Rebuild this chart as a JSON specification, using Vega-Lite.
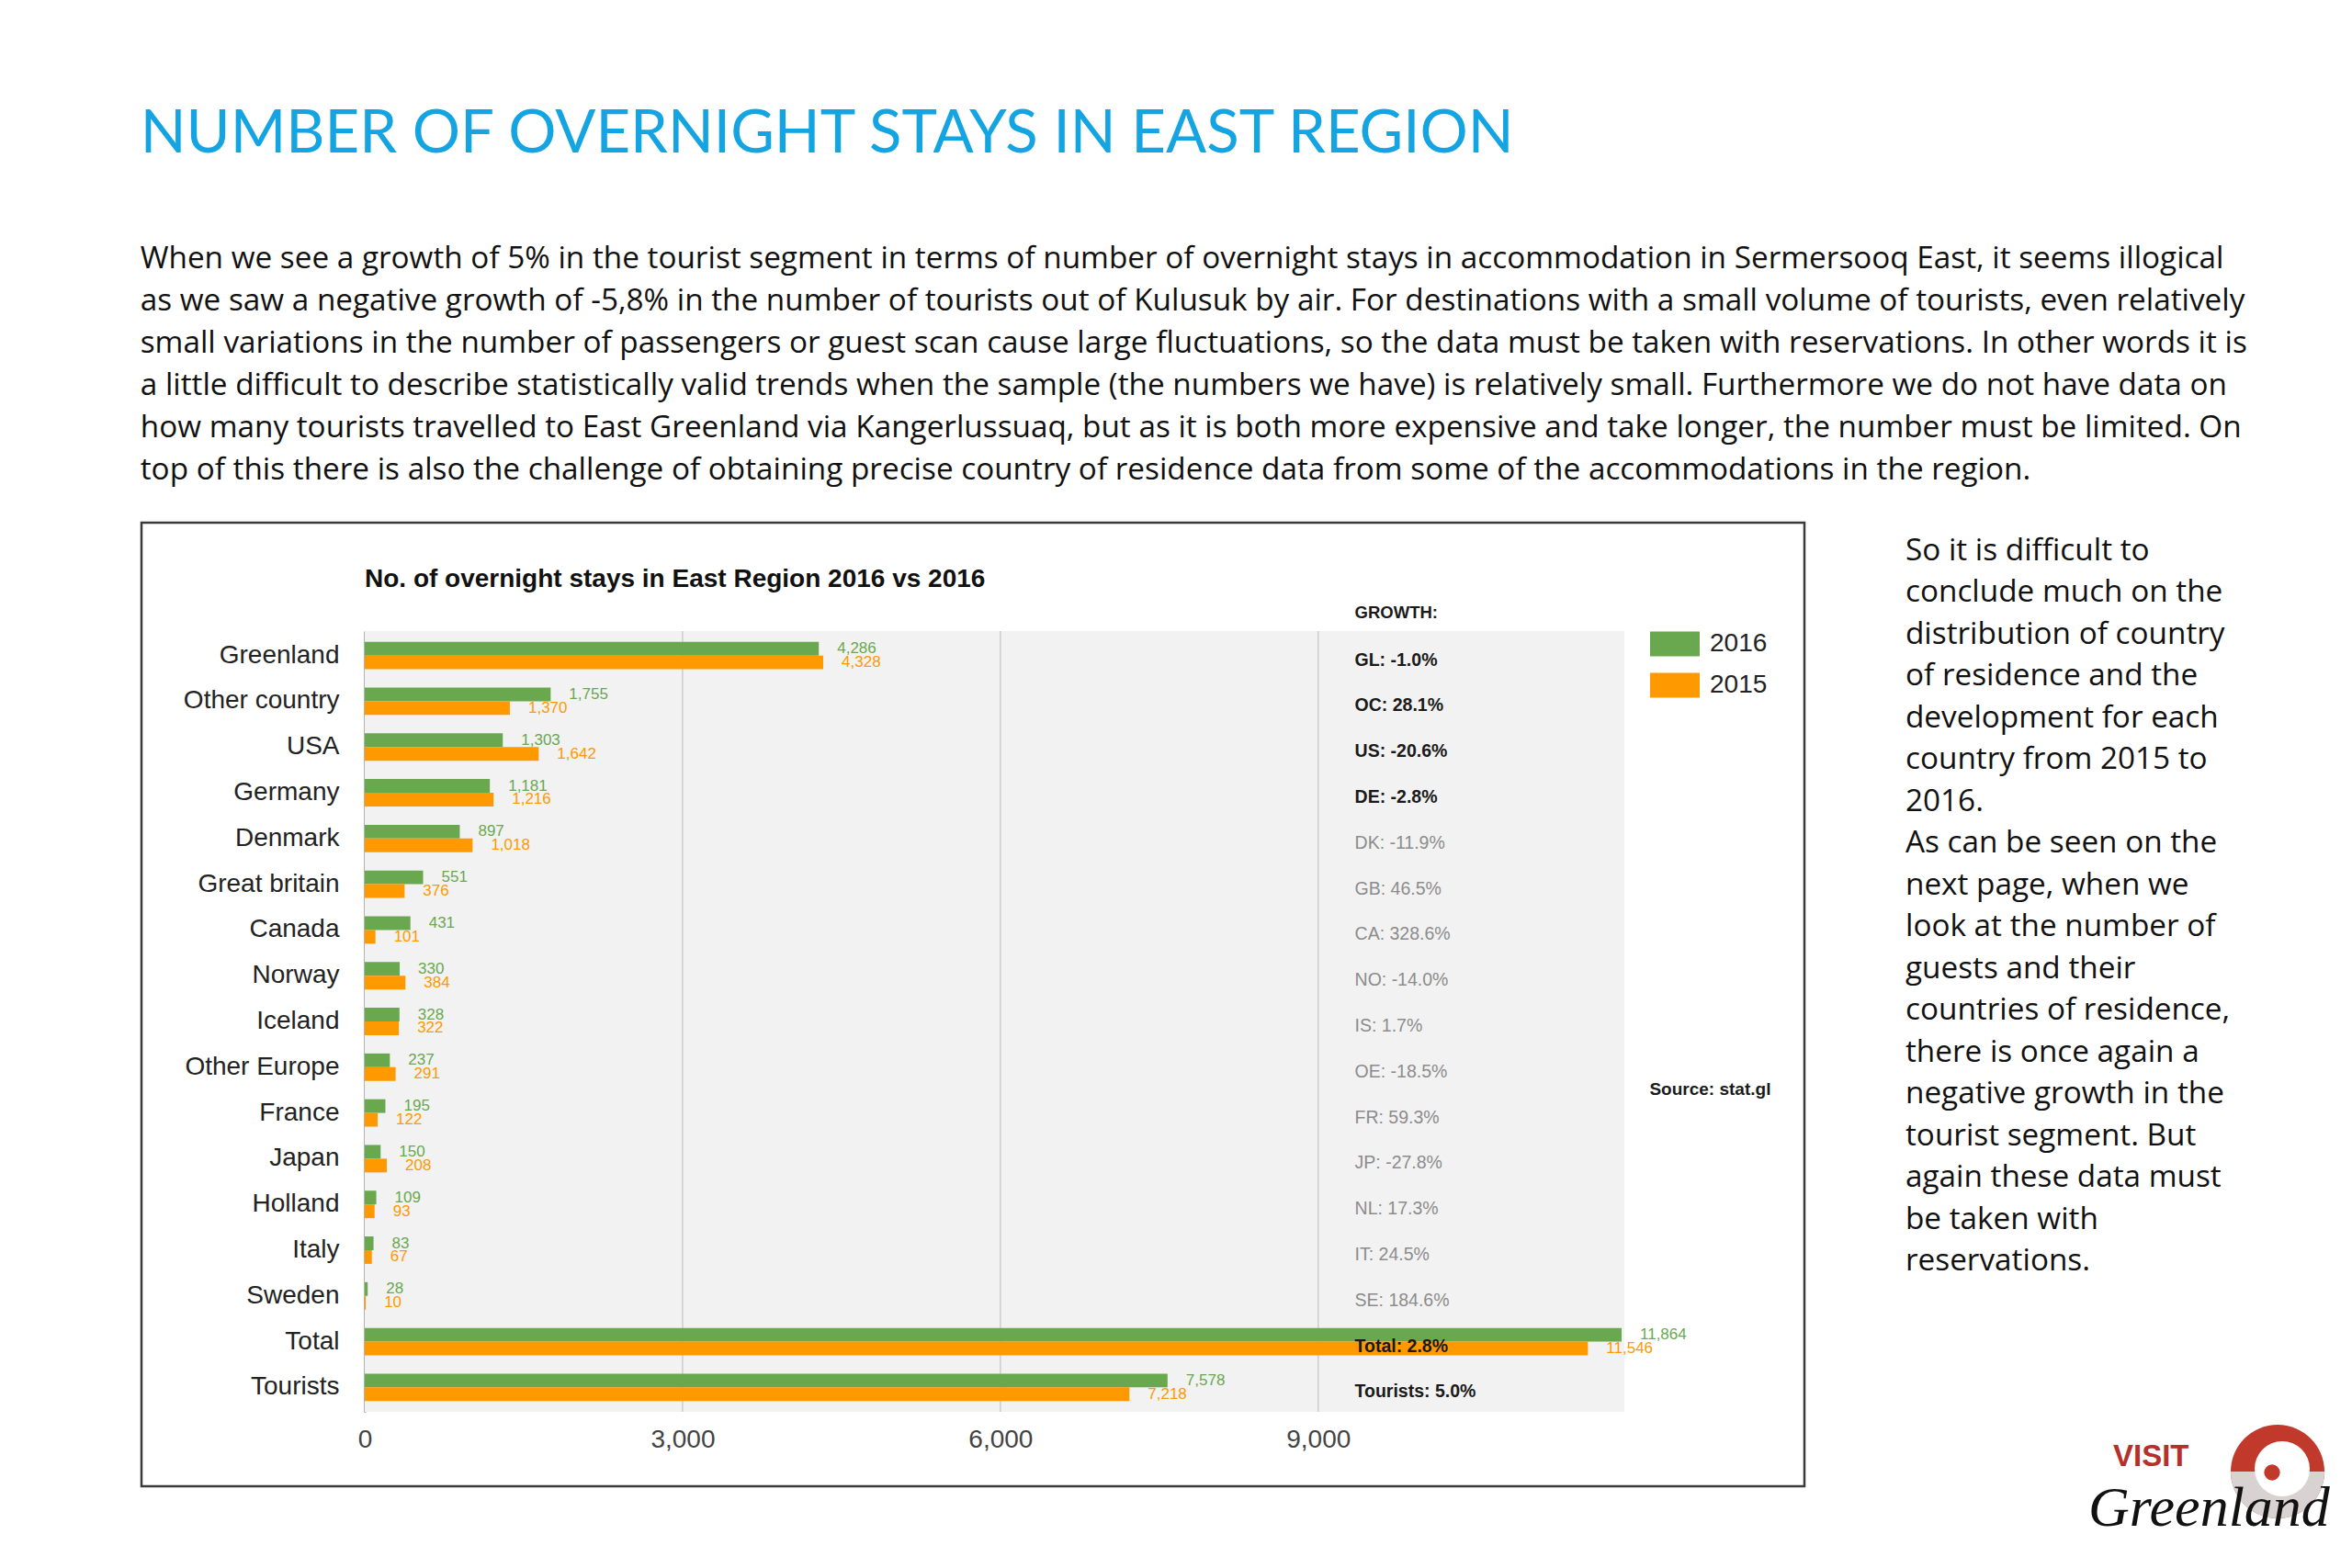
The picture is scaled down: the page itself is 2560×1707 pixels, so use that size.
{
  "$schema": "https://vega.github.io/schema/vega-lite/v6.json",
  "background": "white",
  "padding": {"left": 152, "top": 114, "right": 0, "bottom": 0},
  "title": {
    "text": "NUMBER OF OVERNIGHT STAYS IN EAST REGION",
    "subtitle": [
      "When we see a growth of 5% in the tourist segment in terms of number of overnight stays in accommodation in Sermersooq East, it seems illogical",
      "as we saw a negative growth of -5,8% in the number of tourists out of Kulusuk by air. For destinations with a small volume of tourists, even relatively",
      "small variations in the number of passengers or guest scan cause large fluctuations, so the data must be taken with reservations. In other words it is",
      "a little difficult to describe statistically valid trends when the sample (the numbers we have) is relatively small. Furthermore we do not have data on",
      "how many tourists travelled to East Greenland via Kangerlussuaq, but as it is both more expensive and take longer, the number must be limited. On",
      "top of this there is also the challenge of obtaining precise country of residence data from some of the accommodations in the region."
    ],
    "anchor": "start",
    "frame": "bounds",
    "font": "Lato",
    "fontSize": 65.3,
    "fontWeight": "normal",
    "color": "#14a4e1",
    "subtitleFont": "Open Sans",
    "subtitleFontSize": 33.3,
    "subtitleFontWeight": "normal",
    "subtitleColor": "#111111",
    "subtitleLineHeight": 46,
    "subtitlePadding": 87,
    "offset": 39
  },
  "datasets": {
    "stays": [
      {"country": "Greenland", "year": "2016", "stays": 4286},
      {"country": "Greenland", "year": "2015", "stays": 4328},
      {"country": "Other country", "year": "2016", "stays": 1755},
      {"country": "Other country", "year": "2015", "stays": 1370},
      {"country": "USA", "year": "2016", "stays": 1303},
      {"country": "USA", "year": "2015", "stays": 1642},
      {"country": "Germany", "year": "2016", "stays": 1181},
      {"country": "Germany", "year": "2015", "stays": 1216},
      {"country": "Denmark", "year": "2016", "stays": 897},
      {"country": "Denmark", "year": "2015", "stays": 1018},
      {"country": "Great britain", "year": "2016", "stays": 551},
      {"country": "Great britain", "year": "2015", "stays": 376},
      {"country": "Canada", "year": "2016", "stays": 431},
      {"country": "Canada", "year": "2015", "stays": 101},
      {"country": "Norway", "year": "2016", "stays": 330},
      {"country": "Norway", "year": "2015", "stays": 384},
      {"country": "Iceland", "year": "2016", "stays": 328},
      {"country": "Iceland", "year": "2015", "stays": 322},
      {"country": "Other Europe", "year": "2016", "stays": 237},
      {"country": "Other Europe", "year": "2015", "stays": 291},
      {"country": "France", "year": "2016", "stays": 195},
      {"country": "France", "year": "2015", "stays": 122},
      {"country": "Japan", "year": "2016", "stays": 150},
      {"country": "Japan", "year": "2015", "stays": 208},
      {"country": "Holland", "year": "2016", "stays": 109},
      {"country": "Holland", "year": "2015", "stays": 93},
      {"country": "Italy", "year": "2016", "stays": 83},
      {"country": "Italy", "year": "2015", "stays": 67},
      {"country": "Sweden", "year": "2016", "stays": 28},
      {"country": "Sweden", "year": "2015", "stays": 10},
      {"country": "Total", "year": "2016", "stays": 11864},
      {"country": "Total", "year": "2015", "stays": 11546},
      {"country": "Tourists", "year": "2016", "stays": 7578},
      {"country": "Tourists", "year": "2015", "stays": 7218}
    ],
    "growth": [
      {"country": "Greenland", "label": "GL: -1.0%", "highlight": true},
      {"country": "Other country", "label": "OC: 28.1%", "highlight": true},
      {"country": "USA", "label": "US: -20.6%", "highlight": true},
      {"country": "Germany", "label": "DE: -2.8%", "highlight": true},
      {"country": "Denmark", "label": "DK: -11.9%", "highlight": false},
      {"country": "Great britain", "label": "GB: 46.5%", "highlight": false},
      {"country": "Canada", "label": "CA: 328.6%", "highlight": false},
      {"country": "Norway", "label": "NO: -14.0%", "highlight": false},
      {"country": "Iceland", "label": "IS: 1.7%", "highlight": false},
      {"country": "Other Europe", "label": "OE: -18.5%", "highlight": false},
      {"country": "France", "label": "FR: 59.3%", "highlight": false},
      {"country": "Japan", "label": "JP: -27.8%", "highlight": false},
      {"country": "Holland", "label": "NL: 17.3%", "highlight": false},
      {"country": "Italy", "label": "IT: 24.5%", "highlight": false},
      {"country": "Sweden", "label": "SE: 184.6%", "highlight": false},
      {"country": "Total", "label": "Total: 2.8%", "highlight": true},
      {"country": "Tourists", "label": "Tourists: 5.0%", "highlight": true}
    ],
    "captions": [
      {"role": "chart", "text": "No. of overnight stays in East Region 2016 vs 2016"},
      {"role": "header", "text": "GROWTH:"},
      {"role": "source", "text": "Source: stat.gl"}
    ],
    "grid": [{"tick": 3000}, {"tick": 6000}, {"tick": 9000}],
    "note": [
      {"line": 1, "text": "So it is difficult to"},
      {"line": 2, "text": "conclude much on the"},
      {"line": 3, "text": "distribution of country"},
      {"line": 4, "text": "of residence and the"},
      {"line": 5, "text": "development for each"},
      {"line": 6, "text": "country from 2015 to"},
      {"line": 7, "text": "2016."},
      {"line": 8, "text": "As can be seen on the"},
      {"line": 9, "text": "next page, when we"},
      {"line": 10, "text": "look at the number of"},
      {"line": 11, "text": "guests and their"},
      {"line": 12, "text": "countries of residence,"},
      {"line": 13, "text": "there is once again a"},
      {"line": 14, "text": "negative growth in the"},
      {"line": 15, "text": "tourist segment. But"},
      {"line": 16, "text": "again these data must"},
      {"line": 17, "text": "be taken with"},
      {"line": 18, "text": "reservations."}
    ],
    "logo": [
      {"part": "visit", "text": "VISIT"},
      {"part": "script", "text": "Greenland"}
    ]
  },
  "spacing": 108,
  "hconcat": [
    {
      "width": 1810,
      "height": 1049,
      "view": {"stroke": "#3a3a3a", "strokeWidth": 2.5, "fill": "white"},
      "resolve": {"scale": {"y": "independent"}},
      "layer": [
        {
          "layer": [
            {
              "data": {"values": [{}]},
              "mark": {"type": "rect", "color": "#f2f2f2"},
              "encoding": {
                "x": {"datum": 0, "type": "quantitative", "scale": {"domain": [0, 11890], "range": [243, 1614], "nice": false, "zero": false}},
                "x2": {"datum": 11890},
                "y": {"datum": 0, "type": "quantitative", "scale": {"domain": [0, 1], "range": [118, 968]}, "axis": null},
                "y2": {"datum": 1}
              }
            },
            {
              "data": {"name": "grid"},
              "mark": {"type": "rule", "color": "#cfcfcf", "strokeWidth": 1.6},
              "encoding": {
                "x": {"field": "tick", "type": "quantitative"},
                "y": {"datum": 0, "type": "quantitative", "axis": null},
                "y2": {"datum": 1}
              }
            }
          ]
        },
        {
          "layer": [
            {
              "data": {"name": "stays"},
              "mark": {"type": "bar"},
              "encoding": {
                "y": {
                  "field": "country", "type": "nominal",
                  "scale": {
                    "domain": ["Greenland", "Other country", "USA", "Germany", "Denmark", "Great britain", "Canada", "Norway", "Iceland", "Other Europe", "France", "Japan", "Holland", "Italy", "Sweden", "Total", "Tourists"],
                    "range": [118, 968], "paddingInner": 0.4, "paddingOuter": 0.235
                  },
                  "axis": {"title": null, "ticks": false, "domainColor": "#666666", "domainWidth": 2, "labelFontSize": 28, "labelColor": "#222222", "labelPadding": 28, "offset": -243, "grid": false}
                },
                "yOffset": {"field": "year", "type": "nominal", "sort": ["2016", "2015"], "scale": {"paddingInner": 0, "paddingOuter": 0}},
                "x": {
                  "field": "stays", "type": "quantitative",
                  "axis": {"orient": "bottom", "title": null, "values": [0, 3000, 6000, 9000], "format": ",", "labelExpr": "format(datum.value, ',')", "grid": false, "domain": false, "ticks": false, "labels": true, "labelFontSize": 28, "labelColor": "#444444", "labelPadding": 16, "labelFlush": false, "labelOverlap": false, "offset": -81}
                },
                "color": {
                  "field": "year", "type": "nominal",
                  "scale": {"domain": ["2016", "2015"], "range": ["#6aa84f", "#ff9900"]},
                  "legend": {"title": null, "orient": "none", "legendX": 1642, "legendY": 117, "symbolType": "M-1,-0.5H1V0.5H-1Z", "symbolSize": 2916, "symbolStrokeWidth": 0, "symbolOpacity": 1, "labelFontSize": 28, "labelColor": "#222222", "labelOffset": 11, "rowPadding": 15, "clipHeight": 30}
                }
              }
            },
            {
              "data": {"name": "stays"},
              "mark": {"type": "text", "align": "left", "baseline": "middle", "dx": 20, "fontSize": 17},
              "encoding": {
                "y": {"field": "country", "type": "nominal"},
                "yOffset": {"field": "year", "type": "nominal", "sort": ["2016", "2015"]},
                "x": {"field": "stays", "type": "quantitative"},
                "text": {"field": "stays", "type": "quantitative", "format": ","},
                "color": {"field": "year", "type": "nominal", "legend": null}
              }
            },
            {
              "data": {"name": "growth"},
              "transform": [{"filter": "datum.highlight"}],
              "mark": {"type": "text", "align": "left", "baseline": "middle", "dy": 5, "fontSize": 19.5, "fontWeight": "bold", "color": "#1a1a1a"},
              "encoding": {
                "x": {"datum": 9345, "type": "quantitative"},
                "y": {"field": "country", "type": "nominal"},
                "text": {"field": "label"}
              }
            },
            {
              "data": {"name": "growth"},
              "transform": [{"filter": "!datum.highlight"}],
              "mark": {"type": "text", "align": "left", "baseline": "middle", "dy": 5, "fontSize": 19.5, "color": "#8c8c8c"},
              "encoding": {
                "x": {"datum": 9345, "type": "quantitative"},
                "y": {"field": "country", "type": "nominal"},
                "text": {"field": "label"}
              }
            },
            {
              "data": {"name": "captions"},
              "transform": [{"filter": "datum.role === 'chart'"}],
              "mark": {"type": "text", "align": "left", "baseline": "middle", "dy": -83, "fontSize": 28, "fontWeight": "bold", "color": "#111111"},
              "encoding": {
                "x": {"datum": 0, "type": "quantitative"},
                "y": {"datum": "Greenland", "type": "nominal"},
                "text": {"field": "text"}
              }
            },
            {
              "data": {"name": "captions"},
              "transform": [{"filter": "datum.role === 'header'"}],
              "mark": {"type": "text", "align": "left", "baseline": "middle", "dy": -47, "fontSize": 18.5, "fontWeight": "bold", "color": "#1a1a1a"},
              "encoding": {
                "x": {"datum": 9345, "type": "quantitative"},
                "y": {"datum": "Greenland", "type": "nominal"},
                "text": {"field": "text"}
              }
            },
            {
              "data": {"name": "captions"},
              "transform": [{"filter": "datum.role === 'source'"}],
              "mark": {"type": "text", "align": "left", "baseline": "middle", "dy": 24, "fontSize": 19, "fontWeight": "bold", "color": "#1a1a1a"},
              "encoding": {
                "x": {"datum": 12128, "type": "quantitative"},
                "y": {"datum": "Other Europe", "type": "nominal"},
                "text": {"field": "text"}
              }
            }
          ]
        }
      ]
    },
    {
      "spacing": 150,
      "vconcat": [
        {
          "width": 430,
          "height": 830,
          "data": {"name": "note"},
          "mark": {"type": "text", "align": "left", "baseline": "middle", "font": "Open Sans", "fontSize": 33.3, "color": "#111111"},
          "encoding": {
            "x": {"datum": 0, "type": "quantitative", "scale": {"domain": [0, 1], "nice": false}, "axis": null},
            "y": {"field": "line", "type": "ordinal", "scale": {"type": "point", "range": [31, 804], "padding": 0}, "axis": null},
            "text": {"field": "text"}
          }
        },
        {
          "width": 460,
          "height": 140,
          "layer": [
            {
              "data": {"values": [{}]},
              "mark": {"type": "point", "shape": "circle", "filled": true, "color": "#c0392b", "opacity": 1, "size": 10404},
              "encoding": {
                "x": {"datum": 405, "type": "quantitative", "scale": {"domain": [0, 460], "nice": false, "zero": false}, "axis": null},
                "y": {"datum": 53, "type": "quantitative", "scale": {"domain": [0, 140], "nice": false, "zero": false, "reverse": true}, "axis": null}
              }
            },
            {
              "data": {"values": [{}]},
              "mark": {"type": "point", "shape": "M-1,0A1,1,0,0,0,1,0Z", "filled": true, "color": "#d9d2d2", "opacity": 1, "size": 10404},
              "encoding": {
                "x": {"datum": 405, "type": "quantitative"},
                "y": {"datum": 53, "type": "quantitative"}
              }
            },
            {
              "data": {"values": [{}]},
              "mark": {"type": "point", "shape": "circle", "filled": true, "color": "white", "opacity": 1, "size": 3600},
              "encoding": {
                "x": {"datum": 410, "type": "quantitative"},
                "y": {"datum": 50, "type": "quantitative"}
              }
            },
            {
              "data": {"values": [{}]},
              "mark": {"type": "point", "shape": "circle", "filled": true, "color": "#c0392b", "opacity": 1, "size": 300},
              "encoding": {
                "x": {"datum": 399, "type": "quantitative"},
                "y": {"datum": 54, "type": "quantitative"}
              }
            },
            {
              "data": {"name": "logo"},
              "transform": [{"filter": "datum.part === 'visit'"}],
              "mark": {"type": "text", "align": "left", "baseline": "middle", "fontSize": 33, "fontWeight": "bold", "color": "#b3302b"},
              "encoding": {
                "x": {"datum": 226, "type": "quantitative"},
                "y": {"datum": 37, "type": "quantitative"},
                "text": {"field": "text"}
              }
            },
            {
              "data": {"name": "logo"},
              "transform": [{"filter": "datum.part === 'script'"}],
              "mark": {"type": "text", "align": "left", "baseline": "alphabetic", "font": "Liberation Serif", "fontStyle": "italic", "fontSize": 62, "color": "#111111"},
              "encoding": {
                "x": {"datum": 199, "type": "quantitative"},
                "y": {"datum": 112, "type": "quantitative"},
                "text": {"field": "text"}
              }
            }
          ]
        }
      ]
    }
  ],
  "config": {
    "font": "Liberation Sans",
    "view": {"stroke": null}
  }
}
